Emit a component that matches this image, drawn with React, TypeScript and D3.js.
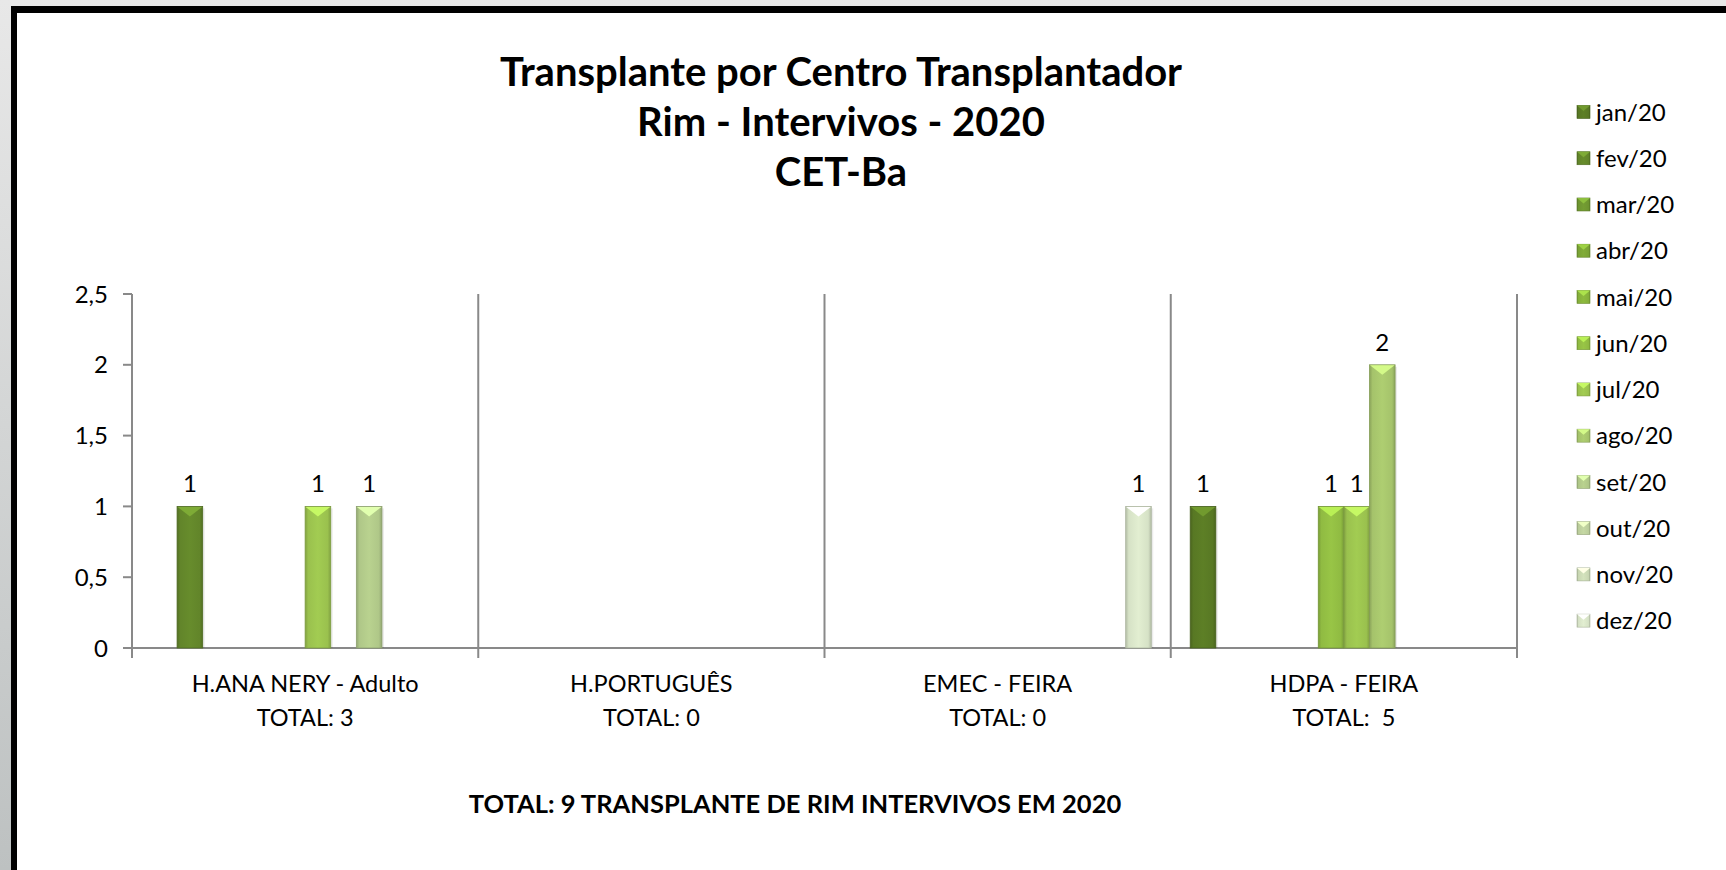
import React, { useRef, useEffect } from "react";
import * as d3 from "d3";

const centers = ["H.ANA NERY - Adulto", "H.PORTUGUÊS", "EMEC - FEIRA", "HDPA - FEIRA"];
const centerTotals = ["TOTAL: 3", "TOTAL: 0", "TOTAL: 0", "TOTAL:  5"];
const months = ["jan/20", "fev/20", "mar/20", "abr/20", "mai/20", "jun/20", "jul/20", "ago/20", "set/20", "out/20", "nov/20", "dez/20"];

// one row per month, one value per center
const monthValues: number[][] = [
  [0, 0, 0, 1],
  [1, 0, 0, 0],
  [0, 0, 0, 0],
  [0, 0, 0, 0],
  [0, 0, 0, 0],
  [0, 0, 0, 1],
  [1, 0, 0, 1],
  [0, 0, 0, 2],
  [1, 0, 0, 0],
  [0, 0, 0, 0],
  [0, 0, 0, 0],
  [0, 0, 1, 0],
];

const monthColors = [
  "#587824", "#62852a", "#6e9530", "#7aa335", "#86b03b", "#90bb42",
  "#9ac14e", "#a5c36b", "#afc788", "#bbcd9b", "#c9d7b3", "#d6e2c6",
];

const yTicks = [0, 0.5, 1, 1.5, 2, 2.5];
const titleLines = ["Transplante por Centro Transplantador", "Rim - Intervivos - 2020", "CET-Ba"];
const footer = "TOTAL: 9 TRANSPLANTE DE RIM INTERVIVOS EM 2020";

const W = 1726;
const H = 870;
const FONT = "Lato, 'Open Sans', sans-serif";

export default function App() {
  const svgRef = useRef<SVGSVGElement | null>(null);

  useEffect(() => {
    const svg = d3.select(svgRef.current);
    svg.selectAll("*").remove();

    const margin = { top: 294, right: W - 1517, bottom: H - 648, left: 132 };
    const defs = svg.append("defs");

    // frame background
    const bg = defs.append("linearGradient").attr("id", "bg").attr("x1", 0).attr("y1", 0).attr("x2", 0).attr("y2", 1);
    bg.append("stop").attr("offset", "0%").attr("stop-color", "#e8e8e8");
    bg.append("stop").attr("offset", "100%").attr("stop-color", "#bdc1c1");
    svg.append("rect").attr("width", W).attr("height", H).attr("fill", "url(#bg)");
    svg.append("rect").attr("x", 11).attr("y", 6).attr("width", W).attr("height", H).attr("fill", "#000");
    svg.append("rect").attr("x", 17).attr("y", 13).attr("width", W).attr("height", H).attr("fill", "#fff");

    // bar gradients
    monthColors.forEach((c, i) => {
      const g = defs.append("linearGradient").attr("id", `bar${i}`).attr("x1", 0).attr("y1", 0).attr("x2", 1).attr("y2", 0);
      const base = d3.color(c)!;
      g.append("stop").attr("offset", "0%").attr("stop-color", base.darker(0.5).formatHex());
      g.append("stop").attr("offset", "12%").attr("stop-color", c);
      g.append("stop").attr("offset", "50%").attr("stop-color", base.brighter(0.15).formatHex());
      g.append("stop").attr("offset", "88%").attr("stop-color", c);
      g.append("stop").attr("offset", "100%").attr("stop-color", base.darker(0.5).formatHex());
    });

    const x0 = d3.scaleBand().domain(centers).range([margin.left, W - margin.right]);
    const x1 = d3.scaleBand().domain(months).range([0, x0.bandwidth()]).paddingOuter(0.76);
    const y = d3.scaleLinear().domain([0, 2.5]).range([H - margin.bottom, margin.top]);

    // title
    svg.append("g")
      .selectAll("text")
      .data(titleLines)
      .join("text")
      .attr("x", 841)
      .attr("y", (d, i) => 86 + i * 50)
      .attr("text-anchor", "middle")
      .attr("font-family", FONT)
      .attr("font-weight", 700)
      .attr("font-size", 40)
      .attr("fill", "#000")
      .text((d) => d);

    // axes
    const axisColor = "#898989";
    const axisG = svg.append("g").attr("stroke", axisColor).attr("stroke-width", 2);
    axisG.append("line").attr("x1", margin.left).attr("x2", W - margin.right).attr("y1", y(0)).attr("y2", y(0));
    const dividers = [margin.left, ...centers.map((c) => x0(c)! + x0.bandwidth())];
    axisG.selectAll(".div")
      .data(dividers)
      .join("line")
      .attr("x1", (d) => d)
      .attr("x2", (d) => d)
      .attr("y1", y(2.5))
      .attr("y2", y(0) + 10);
    axisG.selectAll(".tick")
      .data(yTicks)
      .join("line")
      .attr("x1", margin.left - 9)
      .attr("x2", margin.left)
      .attr("y1", (d) => y(d))
      .attr("y2", (d) => y(d));

    svg.append("g")
      .selectAll("text")
      .data(yTicks)
      .join("text")
      .attr("x", 108)
      .attr("y", (d) => y(d))
      .attr("dy", "0.36em")
      .attr("text-anchor", "end")
      .attr("font-family", FONT)
      .attr("font-size", 24)
      .attr("fill", "#000")
      .text((d) => d3.format("")(d).replace(".", ","));

    // category labels
    const catG = svg.append("g").attr("font-family", FONT).attr("font-size", 23.5).attr("fill", "#000").attr("text-anchor", "middle");
    catG.selectAll(".name")
      .data(centers)
      .join("text")
      .attr("x", (d) => x0(d)! + x0.bandwidth() / 2)
      .attr("y", 692)
      .text((d) => d);
    catG.selectAll(".total")
      .data(centerTotals)
      .join("text")
      .attr("x", (d, i) => x0(centers[i])! + x0.bandwidth() / 2)
      .attr("y", 726)
      .style("white-space", "pre")
      .text((d) => d);

    // bars
    const bars = months.flatMap((m, mi) =>
      centers.map((c, ci) => ({ month: m, mi, center: c, value: monthValues[mi][ci] }))
    ).filter((d) => d.value > 0);

    const barG = svg.append("g");
    const bw = x1.bandwidth();
    const bevel = 10;
    const bar = barG.selectAll("g").data(bars).join("g")
      .attr("transform", (d) => `translate(${x0(d.center)! + x1(d.month)!},0)`);
    bar.append("rect")
      .attr("x", 2).attr("y", (d) => y(d.value) + 2)
      .attr("width", bw).attr("height", (d) => y(0) - y(d.value) - 2)
      .attr("fill", "#000").attr("opacity", 0.08);
    bar.append("rect")
      .attr("x", 0).attr("y", (d) => y(d.value))
      .attr("width", bw).attr("height", (d) => y(0) - y(d.value))
      .attr("fill", (d) => `url(#bar${d.mi})`)
      .attr("stroke", (d) => d3.color(monthColors[d.mi])!.darker(0.6).formatHex())
      .attr("stroke-width", 0.8);
    bar.append("path")
      .attr("d", (d) => `M0.5,${y(d.value) + 0.5}L${bw - 0.5},${y(d.value) + 0.5}L${bw / 2},${y(d.value) + bevel}Z`)
      .attr("fill", (d) => d3.color(monthColors[d.mi])!.brighter(0.7).formatHex());

    // data labels
    barG.selectAll("text.lbl")
      .data(bars)
      .join("text")
      .attr("class", "lbl")
      .attr("x", (d) => x0(d.center)! + x1(d.month)! + bw / 2)
      .attr("y", (d) => y(d.value) - 14)
      .attr("text-anchor", "middle")
      .attr("font-family", FONT)
      .attr("font-size", 24)
      .attr("fill", "#000")
      .text((d) => d.value);

    // legend
    const leg = svg.append("g").selectAll("g").data(months).join("g")
      .attr("transform", (d, i) => `translate(1577,${112 + i * 46.24})`);
    leg.append("rect")
      .attr("x", 0).attr("y", -6.5).attr("width", 13).attr("height", 13)
      .attr("fill", (d, i) => `url(#bar${i})`)
      .attr("stroke", (d, i) => d3.color(monthColors[i])!.darker(0.6).formatHex())
      .attr("stroke-width", 0.6);
    leg.append("path")
      .attr("d", "M0,-6.5L13,-6.5L6.5,-1Z")
      .attr("fill", (d, i) => d3.color(monthColors[i])!.brighter(0.7).formatHex());
    leg.append("text")
      .attr("x", 19)
      .attr("dy", "0.36em")
      .attr("font-family", FONT)
      .attr("font-size", 24)
      .attr("fill", "#000")
      .text((d) => d);

    // footer
    svg.append("text")
      .attr("x", 795)
      .attr("y", 813)
      .attr("text-anchor", "middle")
      .attr("font-family", FONT)
      .attr("font-weight", 700)
      .attr("font-size", 25.5)
      .attr("fill", "#000")
      .text(footer);
  }, []);

  return (
    <div style={{ position: "fixed", left: 0, top: 0 }}>
      <svg ref={svgRef} width={W} height={H} style={{ display: "block" }}></svg>
    </div>
  );
}
